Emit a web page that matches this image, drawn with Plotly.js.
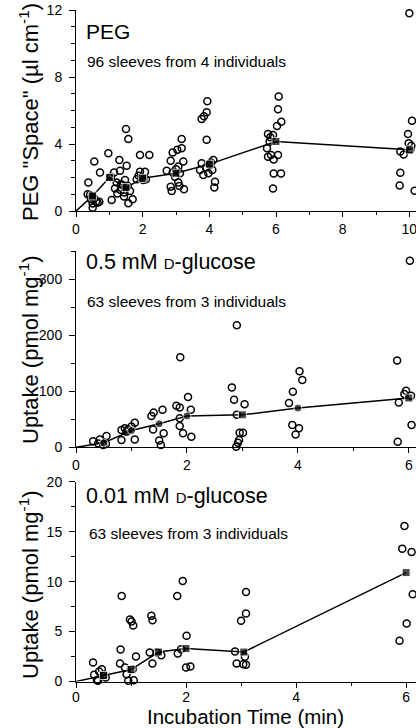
<!DOCTYPE html>
<html><head><meta charset="utf-8">
<script src="https://cdn.plot.ly/plotly-3.0.1.min.js"></script>
<style>html,body{margin:0;padding:0;background:#fff}#chart{width:416px;height:728px}</style>
</head><body><div id="chart"></div>
<script>
// ---- Panel 1: PEG space ----
const pegX = [0.37,0.35,0.42,0.47,0.55,0.5,0.5,0.65,0.7,0.72,0.45,0.55,0.6,
  0.97,1.07,1.14,1.3,1.24,1.32,1.5,1.57,1.52,1.22,1.4,1.44,1.57,1.7,1.62,1.47,1.34,1.17,1.05,1.55,1.45,1.35,
  1.92,2.2,1.92,1.82,2.02,2.07,1.97,2.1,1.88,
  2.72,2.84,2.9,3.04,3.17,3.17,2.84,2.87,2.97,3.07,3.12,3.07,3.1,3.24,3.22,2.9,3.0,
  3.77,3.84,3.92,3.94,3.92,3.72,3.82,3.97,4.09,4.12,4.17,4.15,3.77,4.02,3.9,4.05,
  6.08,6.06,6.16,6.03,5.76,5.91,5.81,5.73,5.76,6.06,5.93,5.93,6.15,5.91,5.83,5.85,
  10.0,10.08,9.96,9.98,9.73,9.83,10.03,9.73,9.71,10.16,10.06];
const pegY = [1.7,1.0,0.95,0.85,2.95,0.45,0.2,0.5,0.55,2.3,0.7,0.75,0.55,
  3.45,0.66,2.3,3.05,1.05,2.4,4.9,4.3,2.7,1.7,1.55,0.86,0.46,0.7,1.2,1.85,1.25,1.35,2.05,1.5,1.1,1.6,
  3.35,3.35,2.35,1.9,1.85,2.35,2.0,1.9,2.1,
  2.4,3.0,3.5,3.65,4.3,3.75,1.45,1.2,2.05,2.65,2.25,1.7,1.5,1.3,2.95,2.3,2.5,
  5.5,5.65,5.9,6.55,4.25,2.45,2.15,2.25,2.45,3.05,1.75,1.4,2.85,2.75,2.6,2.9,
  6.83,6.07,5.33,5.07,4.6,4.54,4.14,3.74,3.24,3.34,3.08,2.24,2.24,1.35,4.4,3.35,
  11.8,5.39,4.6,4.04,3.55,3.38,3.65,2.28,1.52,1.21,3.9];
const pegMeanX = [0,0.5,1,1.5,2,3,4,6,10];
const pegMeanY = [0,0.9,2.0,1.4,1.95,2.25,2.8,4.15,3.65];

// ---- Panel 2: 0.5 mM D-glucose ----
const gluHiX = [0.31,0.4,0.43,0.55,0.49,0.61,0.54,
  0.82,0.85,0.82,0.88,0.94,1.0,1.06,1.06,0.91,
  1.36,1.4,1.39,1.5,1.53,1.56,1.58,
  1.81,1.87,1.88,1.87,1.87,1.93,2.02,2.07,2.08,
  2.81,2.85,2.9,3.04,2.9,2.95,2.94,2.92,2.89,3.01,
  3.84,3.91,4.03,4.08,3.9,4.02,3.96,
  5.79,6.02,5.82,5.95,6.04,6.05,5.8,5.92];
const gluHiY = [11,7,14,20,4,-3.6,6,
  13,-6,31,34,32,37,44,14,28,
  56,62,32,12,4,67,25,
  74,71,161,52,38,25,90,67,19,
  107,85,218,77,58,26,13,8,1,26,
  79,99,136,120,40,34,23,
  155,333,80,101,92,40,10,95];
const gluHiMeanX = [0,0.5,1,1.5,2,3,4,6];
const gluHiMeanY = [0,8,30,42,56,58,70,88];

// ---- Panel 3: 0.01 mM D-glucose ----
const gluLoX = [0.31,0.33,0.4,0.47,0.42,0.51,0.54,0.38,0.41,
  0.83,0.81,0.8,0.98,1.01,1.04,1.09,0.92,0.95,1.05,0.89,1.03,
  1.37,1.39,1.39,1.34,1.55,1.47,
  1.84,1.94,1.85,1.91,2.01,2.0,2.08,
  2.89,2.92,3.0,3.09,3.09,3.07,3.04,3.09,
  5.97,5.93,6.1,6.12,6.01,5.88];
const gluLoY = [1.9,0.67,0.07,1.23,1.0,0.67,0.4,0.13,-0.2,
  8.57,3.2,1.8,6.2,6.0,5.6,2.5,0.73,0.07,0.13,1.4,1.23,
  6.57,6.13,1.8,2.9,2.63,2.9,
  8.57,10.07,2.8,3.23,4.57,1.4,1.5,
  3.0,1.8,6.07,6.8,8.97,2.47,1.73,1.67,
  15.57,13.3,12.97,8.73,5.8,4.07];
const gluLoMeanX = [0,0.5,1,1.5,2,3.05,6];
const gluLoMeanY = [0,0.6,1.2,2.95,3.3,2.95,10.9];

const W = 416, H = 728, L = 76;
const px = x => (x - L) / (W - L);
const py = y => 1 - y / H;

function openPts(x, y, xa, ya) {
  return {x: x, y: y, xaxis: xa, yaxis: ya, type: 'scatter', mode: 'markers', cliponaxis: false,
    marker: {symbol: 'circle-open', size: 7, color: '#000', line: {width: 1.5, color: '#000'}},
    hoverinfo: 'skip', showlegend: false};
}
function meanLine(x, y, xa, ya, symbols) {
  return {x: x, y: y, xaxis: xa, yaxis: ya, type: 'scatter', mode: 'lines+markers', cliponaxis: false,
    line: {color: '#000', width: 1.5},
    marker: {symbol: symbols, size: x.map(v => v === 0 ? 0 : 8), color: '#000'},
    hoverinfo: 'skip', showlegend: false};
}

const sym1 = pegMeanX.map(() => 'square');
const sym2 = ['circle','circle','circle','circle','circle','square','circle','square'];
const sym3 = gluLoMeanX.map(() => 'square');

const traces = [
  openPts(pegX, pegY, 'x', 'y'),
  meanLine(pegMeanX, pegMeanY, 'x', 'y', sym1),
  openPts(gluHiX, gluHiY, 'x2', 'y2'),
  meanLine(gluHiMeanX, gluHiMeanY, 'x2', 'y2', sym2),
  openPts(gluLoX, gluLoY, 'x3', 'y3'),
  meanLine(gluLoMeanX, gluLoMeanY, 'x3', 'y3', sym3)
];

const F = 'Liberation Sans, Arial, sans-serif';
const tickFont = {family: F, size: 14, color: '#000'};
function xax(range, anchor, standoff) {
  return {range: range, anchor: anchor, domain: [0, 1], showline: true, linecolor: '#000', linewidth: 1,
    ticks: 'outside', ticklen: 5, tickcolor: '#000', dtick: 2, tick0: 0, showgrid: false, zeroline: false,
    tickfont: tickFont, fixedrange: true, ticklabeloverflow: 'allow', ticklabelstandoff: standoff,
    minor: {dtick: 1, tick0: 0, ticks: 'outside', ticklen: 3, tickcolor: '#000', showgrid: false}};
}
function yax(range, domain, anchor, dtick, minor) {
  return {range: range, domain: domain, anchor: anchor, showline: true, linecolor: '#000', linewidth: 1,
    ticks: 'outside', ticklen: 6, tickcolor: '#000', dtick: dtick, tick0: 0, showgrid: false, zeroline: false,
    tickfont: tickFont, ticklabelstandoff: 4, fixedrange: true,
    minor: {dtick: minor, tick0: 0, ticks: 'outside', ticklen: 4, tickcolor: '#000', showgrid: false}};
}

function ann(text, x, y, size, opts) {
  return Object.assign({text: text, xref: 'paper', yref: 'paper', x: px(x), y: py(y),
    xanchor: 'left', yanchor: 'middle', showarrow: false, font: {family: F, size: size, color: '#000'}}, opts || {});
}

const layout = {
  width: W, height: H, margin: {l: L, r: 0, t: 0, b: 0},
  paper_bgcolor: '#fff', plot_bgcolor: 'rgba(0,0,0,0)',
  xaxis: xax([0, 10.2], 'y', 0),
  yaxis: yax([0, 12], [py(211), py(10)], 'x', 4, 1),
  xaxis2: xax([0, 6.13], 'y2', 0),
  yaxis2: yax([0, 350], [py(447.3), py(251.3)], 'x2', 100, 50),
  xaxis3: xax([0, 6.18], 'y3', -2),
  yaxis3: yax([0, 20], [py(681.5), py(481.7)], 'x3', 5, 2.5),
  annotations: [
    ann('PEG', 84, 32, 21),
    ann('96 sleeves from 4 individuals', 85, 61, 15.5),
    ann('0.5 mM <span style="font-size:15px">D</span>-glucose', 84, 262, 21.5),
    ann('63 sleeves from 3 individuals', 85, 301, 15.5),
    ann('0.01 mM <span style="font-size:15px">D</span>-glucose', 84, 496, 21.5),
    ann('63 sleeves from 3 individuals', 87, 533, 15.5),
    ann('Incubation Time (min)', 245, 716, 20.5, {xanchor: 'center'}),
    ann('PEG "Space" (µl cm<sup>-1</sup>)', 29, 112, 22, {xanchor: 'center', textangle: -90}),
    ann('Uptake (pmol mg<sup>-1</sup>)', 29, 350, 22, {xanchor: 'center', textangle: -90}),
    ann('Uptake (pmol mg<sup>-1</sup>)', 29, 585, 22, {xanchor: 'center', textangle: -90})
  ]
};

Plotly.newPlot('chart', traces, layout, {staticPlot: true, displayModeBar: false});
</script></body></html>
